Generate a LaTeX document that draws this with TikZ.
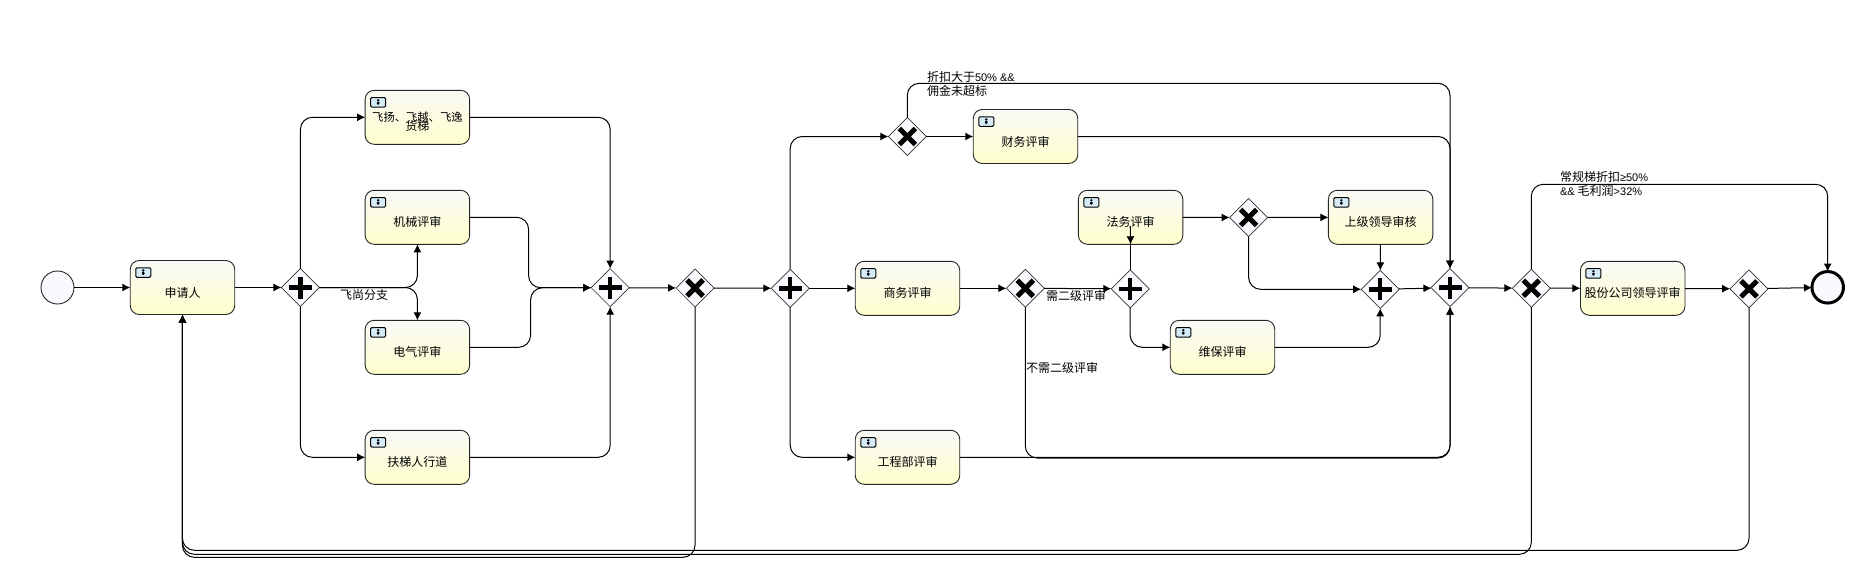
\documentclass[tikz,border=0pt]{standalone}
\usepackage{fontspec}
\setmainfont{Noto Sans CJK SC}
\newfontfamily\latinfont{Liberation Sans}
\newcommand{\numtext}[1]{{\latinfont\fontsize{11}{14}\selectfont #1}}
\usetikzlibrary{shapes.geometric,arrows.meta}
\definecolor{taskTop}{HTML}{F9F9F7}
\definecolor{taskBottom}{HTML}{FFFFCC}
\definecolor{gatePaper}{HTML}{F8FAFD}
\definecolor{iconBlue}{HTML}{D5ECF8}
\tikzset{
  task/.style={draw=black!85,line width=.9pt,rounded corners=9pt,top color=taskTop,bottom color=taskBottom,
    minimum width=104.5pt,minimum height=54pt,inner sep=0pt,outer sep=0pt,align=center,
    font=\fontsize{12}{10}\selectfont,text height=22pt,text depth=3pt},
  taskicon/.style={draw=black,line width=1pt,rounded corners=1.2pt,fill=iconBlue,minimum width=15pt,minimum height=9.5pt,
    inner sep=0pt,outer sep=0pt,path picture={
      \fill[black] ([yshift=2pt]path picture bounding box.center) circle (1.3pt);
      \fill[black] ([shift={(-2pt,.4pt)}]path picture bounding box.center) -- ([shift={(2pt,.4pt)}]path picture bounding box.center) -- ([yshift=-3.4pt]path picture bounding box.center) -- cycle;}},
  gate/.style={diamond,draw=black!80,line width=.7pt,fill=gatePaper,minimum width=38pt,minimum height=38pt,inner sep=0pt,outer sep=0pt},
  gplus/.style={gate,path picture={
      \draw[black,line width=4.5pt] ([xshift=-11.5pt]path picture bounding box.center) -- ([xshift=11.5pt]path picture bounding box.center);
      \draw[black,line width=4.5pt] ([yshift=-11pt]path picture bounding box.center) -- ([yshift=11pt]path picture bounding box.center);}},
  gcross/.style={gate,path picture={
      \draw[black,line width=5pt] ([shift={(-8pt,-8pt)}]path picture bounding box.center) -- ([shift={(8pt,8pt)}]path picture bounding box.center);
      \draw[black,line width=5pt] ([shift={(-8pt,8pt)}]path picture bounding box.center) -- ([shift={(8pt,-8pt)}]path picture bounding box.center);}},
  flow/.style={draw=black,line width=1pt,rounded corners=12pt,-{Latex[length=8pt,width=8pt]}},
  plainflow/.style={draw=black,line width=1pt,rounded corners=12pt},
  cond/.style={inner sep=0pt,outer sep=0pt,align=left,font=\fontsize{12}{14}\selectfont}
}
\begin{document}
\begin{tikzpicture}[x=1pt,y=-1pt]
  \useasboundingbox (0,0) rectangle (1850,562);

  % Draw the start and end events
  \node[circle,draw=black!85,line width=.9pt,fill=gatePaper,minimum size=33pt,inner sep=0pt,outer sep=0pt] (start) at (57.5,287.5) {};
  \node[circle,draw=black,line width=3pt,fill=gatePaper,minimum size=31.5pt,inner sep=0pt,outer sep=0pt] (finish) at (1827.7,287.3) {};

  % Define the tasks
  \foreach \name/\px/\py/\txt in {
    apply/182.5/287.5/申请人,
    tmech/417.4/217.3/机械评审,
    telec/417.4/347.3/电气评审,
    tesca/417.4/457.3/扶梯人行道,
    tfin/1025.5/136.5/财务评审,
    tcom/907.5/288.3/商务评审,
    tproj/907.5/457.3/工程部评审,
    tlaw/1130.6/217.3/法务评审,
    tmaint/1222.5/347.3/维保评审,
    tboss/1380.6/217.3/上级领导审核,
    tcorp/1632.7/288.3/股份公司领导评审} {
    \node[task] (\name) at (\px,\py) {\txt};
    \node[taskicon] (\name-icon) at ([shift={(13,12)}]\name.north west) {};
  }
  \node[task,text height=30pt] (tfly) at (417.4,117.3) {{\fontsize{11.3}{10}\selectfont 飞扬、飞越、飞逸}\\[-2.5pt]货梯};
  \node[taskicon] (tfly-icon) at ([shift={(13,12)}]tfly.north west) {};

  % Define the gateways
  \foreach \name/\px/\py in {gsplit/300.4/287.5, gjoin/610.2/287.7, gfork/790.2/288.3, gsecond/1130.2/288.8,
    gmerge/1380.2/289.3, gall/1450/287.7} {
    \node[gplus] (\name) at (\px,\py) {};
  }
  \foreach \name/\px/\py in {gcheck/695/288, gdisc/907.3/136.5, gneed/1025.3/288.3, glaw/1248.6/217.5,
    gtop/1531.3/288.2, gdone/1749/288.8} {
    \node[gcross] (\name) at (\px,\py) {};
  }

  % Bends of the long connectors
  \coordinate (jogmech) at (528.6,287.7);
  \coordinate (jogelec) at (530.6,287.7);
  \coordinate (overdisc) at (1450,83.3);
  \coordinate (underneed) at (1450,458);
  \coordinate (overtop) at (1827.7,184.3);
  \coordinate (backcheck) at (182.4,557.3);
  \coordinate (backtop) at (182.4,554.3);
  \coordinate (backdone) at (182.4,550.3);
  \coordinate (lawinner) at (1130.2,226);

  % Straight connectors
  \foreach \from/\to in {start/apply, apply/gsplit, gjoin/gcheck, gcheck/gfork, gfork/tcom, tcom/gneed, gneed/gsecond,
    gdisc/tfin, tlaw/glaw, glaw/tboss, tboss/gmerge, gmerge/gall, gall/gtop, gtop/tcorp, tcorp/gdone, gdone/finish} {
    \draw[flow] (\from) -- (\to);
  }
  \draw[plainflow] (gsecond.north) -- (lawinner);
  \draw[flow] (lawinner) -- (tlaw.south);

  % First group of reviews
  \draw[flow] (gsplit.north) |- (tfly.west);
  \draw[flow] (gsplit.south) |- (tesca.west);
  \draw[flow] (gsplit.east) -| (tmech.south);
  \draw[flow] (gsplit.east) -| (telec.north);
  \draw[flow] (tfly.east) -| (gjoin.north);
  \draw[flow] (tesca.east) -| (gjoin.south);
  \draw[flow] (tmech.east) -| (jogmech) -- (gjoin.west);
  \draw[flow] (telec.east) -| (jogelec) -- (gjoin.west);

  % Second group of reviews
  \draw[flow] (gfork.north) |- (gdisc.west);
  \draw[flow] (gfork.south) |- (tproj.west);
  \draw[flow] (gdisc.north) |- (overdisc) -- (gall.north);
  \draw[flow] (tfin.east) -| (gall.north);
  \draw[flow] (tproj.east) -| (gall.south);
  \draw[flow] (gneed.south) |- (underneed) -- (gall.south);
  \draw[flow] (gsecond.south) |- (tmaint.west);
  \draw[flow] (glaw.south) |- (gmerge.west);
  \draw[flow] (tmaint.east) -| (gmerge.south);

  % Way round the last review and the ways back
  \draw[flow] (gtop.north) |- (overtop) -- (finish.north);
  \draw[flow] (gcheck.south) |- (backcheck) -- (apply.south);
  \draw[flow] (gtop.south) |- (backtop) -- (apply.south);
  \draw[flow] (gdone.south) |- (backdone) -- (apply.south);

  % Conditions on the connectors
  \node[cond,anchor=west] (lsplit) at (340,295) {飞尚分支};
  \node[cond,anchor=west] (ldisc) at (927,84) {折扣大于\numtext{50\% \&\&}\\佣金未超标};
  \node[cond,anchor=west] (lneed) at (1046,296) {需二级评审};
  \node[cond,anchor=west] (lnoneed) at (1026,368) {不需二级评审};
  \node[cond,anchor=west] (ltop) at (1560,184) {常规梯折扣\numtext{≥50\%}\\\numtext{\&\& }毛利润\numtext{>32\%}};
\end{tikzpicture}
\end{document}
